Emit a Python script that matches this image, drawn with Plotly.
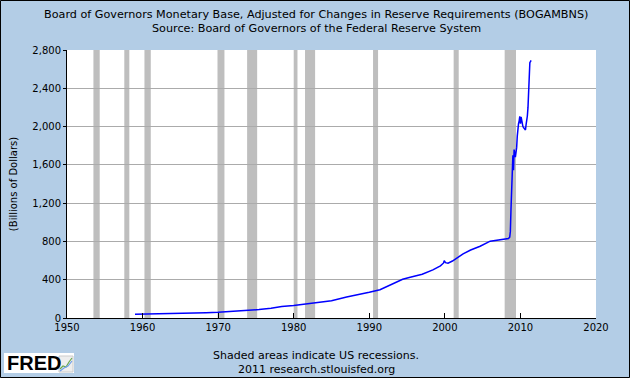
import plotly.graph_objects as go

# ---- data ----
dates = [
    "1959-01-01", "1960-01-01", "1962-01-01", "1964-01-01", "1965-06-01", "1967-01-01",
    "1968-06-01", "1970-01-01", "1972-01-01", "1974-01-01", "1975-06-01", "1977-01-01",
    "1978-06-01", "1980-01-01", "1981-06-01", "1983-01-01", "1985-01-01", "1987-01-01",
    "1989-01-01", "1990-01-01", "1991-06-01", "1993-01-01", "1994-06-01", "1995-06-01",
    "1997-01-01", "1998-06-01", "1999-06-01", "1999-11-01", "1999-12-01", "2000-02-01",
    "2000-06-01", "2001-01-01", "2001-08-01", "2002-06-01", "2003-06-01", "2004-09-01",
    "2006-01-01", "2007-04-01", "2008-06-01", "2008-08-01", "2008-09-01", "2008-10-01",
    "2008-11-01", "2008-12-01", "2009-01-01", "2009-02-01", "2009-03-01", "2009-04-01",
    "2009-05-01", "2009-06-01", "2009-07-01", "2009-08-01", "2009-09-01", "2009-10-01",
    "2009-11-01", "2009-12-01", "2010-01-01", "2010-02-01", "2010-03-01", "2010-04-01",
    "2010-05-01", "2010-06-01", "2010-07-01", "2010-08-01", "2010-09-01", "2010-10-01",
    "2010-11-01", "2010-12-01", "2011-01-01", "2011-02-01", "2011-03-01", "2011-04-01",
    "2011-05-01", "2011-06-01",
]
values = [
    40, 41, 42, 44, 46, 50,
    55, 60, 68, 78, 88, 102,
    120, 130, 142, 160, 180, 220,
    250, 269, 295, 350, 405, 426,
    457, 503, 545, 575, 600, 578,
    573, 595, 625, 670, 710, 750,
    803, 817, 830, 845, 905, 1130,
    1430, 1690, 1700, 1545, 1760, 1720,
    1680, 1730, 1780, 1900, 2020, 2030,
    2060, 2108, 2030, 2100, 2070, 2010,
    2000, 1990, 1985, 1975, 1965, 2020,
    2060, 2110, 2200, 2460, 2530, 2667,
    2680, 2691,
]

recession_starts = ["1953-07-01", "1957-08-01", "1960-04-01", "1969-12-01", "1973-11-01",
                    "1980-01-01", "1981-07-01", "1990-07-01", "2001-03-01", "2007-12-01"]
recession_ends = ["1954-05-01", "1958-04-01", "1961-02-01", "1970-11-01", "1975-03-01",
                  "1980-07-01", "1982-11-01", "1991-03-01", "2001-11-01", "2009-06-01"]

y_ticks = [0, 400, 800, 1200, 1600, 2000, 2400, 2800]
x_tick_years = [1950, 1960, 1970, 1980, 1990, 2000, 2010, 2020]

title_line1 = "Board of Governors Monetary Base, Adjusted for Changes in Reserve Requirements (BOGAMBNS)"
title_line2 = "Source: Board of Governors of the Federal Reserve System"
footer_line1 = "Shaded areas indicate US recessions."
footer_line2 = "2011 research.stlouisfed.org"
y_title = "(Billions of Dollars)"

# ---- layout geometry (pixels) ----
W, H = 630, 378
L, R, T, B = 67, 596, 50, 318
PW, PH = R - L, B - T


def px(xp):
    return (xp - L) / PW


def py(yp):
    return (B - yp) / PH


BG = "#B3CDE6"
FONT = "DejaVu Sans"

fig = go.Figure()
fig.add_trace(go.Scatter(
    x=dates, y=values, mode="lines",
    line=dict(color="#0000FF", width=1.5),
    showlegend=False, hoverinfo="x+y",
))

shapes = []
for s, e in zip(recession_starts, recession_ends):
    shapes.append(dict(type="rect", xref="x", yref="paper", x0=s, x1=e, y0=0, y1=1,
                       fillcolor="#BEBEBE", line=dict(width=0), layer="below"))

# outer frame
shapes.append(dict(type="rect", xref="paper", yref="paper",
                   x0=px(0.5), x1=px(W - 0.5), y0=py(H - 0.5), y1=py(0.5),
                   line=dict(color="#000000", width=1), fillcolor="rgba(0,0,0,0)"))
# FRED logo box
shapes.append(dict(type="rect", xref="paper", yref="paper",
                   x0=px(4), x1=px(74), y0=py(373), y1=py(353),
                   line=dict(width=0), fillcolor="#FFFFFF"))
# small chart icon in logo
shapes.append(dict(type="rect", xref="paper", yref="paper",
                   x0=px(59), x1=px(73), y0=py(372), y1=py(356),
                   line=dict(color="#CCCCCC", width=1), fillcolor="#EEEEEE"))
shapes.append(dict(type="path", xref="paper", yref="paper",
                   path="M {} {} L {} {} L {} {} L {} {} L {} {}".format(
                       px(60), py(369), px(63), py(366), px(66), py(367), px(69), py(362), px(72), py(358)),
                   line=dict(color="#6AA84F", width=1.2)))
shapes.append(dict(type="path", xref="paper", yref="paper",
                   path="M {} {} L {} {} L {} {} L {} {}".format(
                       px(60), py(371), px(64), py(368), px(68), py(366), px(72), py(361)),
                   line=dict(color="#6D9EEB", width=1.2)))

annotations = [
    dict(text=title_line1, x=px(316), y=py(15), xref="paper", yref="paper",
         showarrow=False, xanchor="center", yanchor="middle",
         font=dict(family=FONT, size=11.2, color="#000000")),
    dict(text=title_line2, x=px(316), y=py(29), xref="paper", yref="paper",
         showarrow=False, xanchor="center", yanchor="middle",
         font=dict(family=FONT, size=11.2, color="#000000")),
    dict(text=footer_line1, x=px(316), y=py(355), xref="paper", yref="paper",
         showarrow=False, xanchor="center", yanchor="middle",
         font=dict(family=FONT, size=11, color="#000000")),
    dict(text=footer_line2, x=px(316), y=py(369), xref="paper", yref="paper",
         showarrow=False, xanchor="center", yanchor="middle",
         font=dict(family=FONT, size=11, color="#000000")),
    dict(text="<b>FRED</b>", x=px(5), y=py(363), xref="paper", yref="paper",
         showarrow=False, xanchor="left", yanchor="middle",
         font=dict(family="Liberation Sans", size=20, color="#000000")),
]

fig.update_layout(
    width=W, height=H,
    margin=dict(l=L, r=W - R, t=T, b=H - B, pad=0),
    paper_bgcolor=BG, plot_bgcolor="#FFFFFF",
    font=dict(family=FONT, size=10, color="#000000"),
    shapes=shapes, annotations=annotations,
    xaxis=dict(
        type="date", range=["1950-01-01", "2020-01-01"],
        tickvals=[f"{y}-01-01" for y in x_tick_years],
        ticktext=[str(y) for y in x_tick_years],
        showgrid=False, zeroline=False,
        showline=True, linecolor="#000000", linewidth=1,
        ticks="inside", ticklen=5, tickcolor="#000000",
        tickfont=dict(family=FONT, size=10),
    ),
    yaxis=dict(
        range=[0, 2800], tickvals=y_ticks,
        ticktext=[f"{v:,}" for v in y_ticks],
        showgrid=True, gridcolor="#ABABAB", gridwidth=1, zeroline=False,
        showline=True, linecolor="#000000", linewidth=1,
        ticks="outside", ticklen=3, tickcolor="#000000",
        tickfont=dict(family=FONT, size=10),
        title=dict(text=y_title, font=dict(family=FONT, size=10), standoff=12),
    ),
)

fig.write_html("out.html", config={"displayModeBar": False},
               post_script="document.body.style.margin='0';document.body.style.overflow='hidden';")
